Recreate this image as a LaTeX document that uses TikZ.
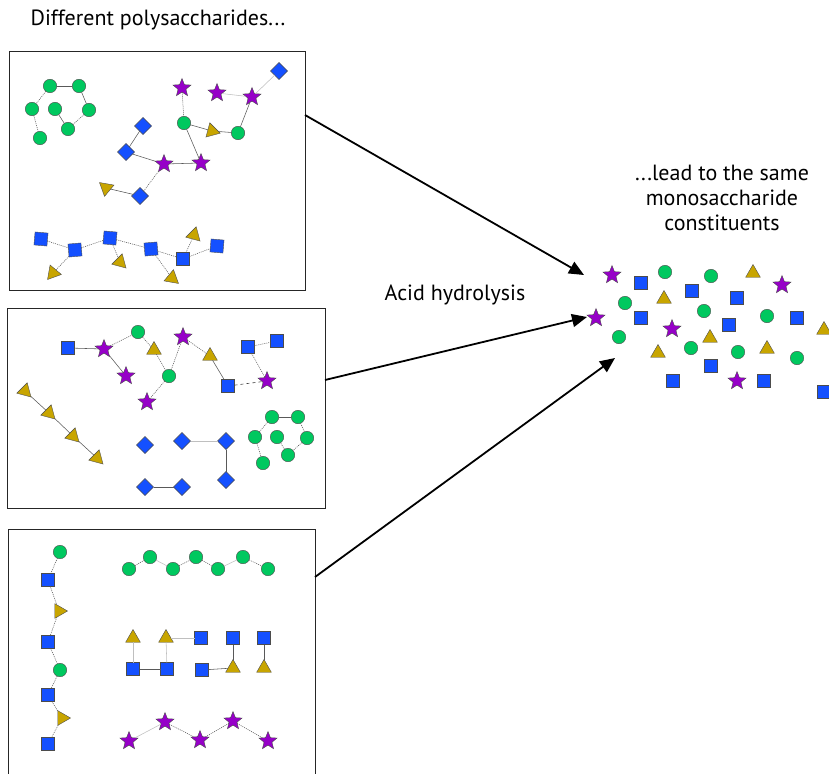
\documentclass[tikz,border=0pt]{standalone}
\usepackage{fontspec}
\setmainfont{PT Sans}
\usetikzlibrary{shapes.geometric,arrows.meta}
\definecolor{cgreen}{RGB}{0,200,95}
\definecolor{cblue}{RGB}{20,80,255}
\definecolor{cgold}{RGB}{200,165,0}
\definecolor{cpurple}{RGB}{150,0,200}
\tikzset{
 mono/.style={draw=black!70, line width=0.4pt, inner sep=0pt, outer sep=0pt},
 glc/.style={mono, circle, fill=cgreen, minimum size=13.5pt},
 sqr/.style={mono, rectangle, fill=cblue, minimum size=13pt},
 dia/.style={mono, diamond, fill=cblue, minimum size=17pt},
 str/.style={mono, star, star points=5, star point ratio=2.3, fill=cpurple, minimum size=19pt},
 tri/.style={mono, regular polygon, regular polygon sides=3, fill=cgold, minimum size=17pt},
 lk/.style={draw=black!65, line width=0.55pt},
 lkd/.style={draw=black!65, line width=0.55pt, dash pattern=on 1pt off 1pt},
 lkdash/.style={draw=black!75, line width=0.6pt, dash pattern=on 3pt off 3pt},
 lkl/.style={draw=black!25, line width=0.55pt},
 arr/.style={-{Triangle[length=15pt,width=13pt]}, line width=1.8pt},
 boxline/.style={draw=black!85, line width=0.9pt},
 lbl/.style={font=\fontsize{22}{25}\selectfont, inner sep=0pt}
}
\begin{document}
\begin{tikzpicture}[x=1pt,y=-1pt]
\useasboundingbox (0,0) rectangle (829,773);
% texts
\node[lbl] (ttl) at (158,20) {Different polysaccharides...};
\node[lbl] (acid) at (455,295) {Acid hydrolysis};
\node[lbl, align=center] (lead) at (722,198) {...lead to the same\\monosaccharide\\constituents};
% boxes
\draw[boxline] (9,51) rectangle (305,290);
\draw[boxline] (7,308) rectangle (325,508);
\draw[boxline] (8,775) -- (8,529) -- (315,529) -- (315,775);
% ---------- box 1
\node[glc] (b1c1) at (50,86) {};
\node[glc] (b1c2) at (79,86) {};
\node[glc] (b1c3) at (32,109) {};
\node[glc] (b1c4) at (55,109) {};
\node[glc] (b1c5) at (89,110) {};
\node[glc] (b1c6) at (68,129) {};
\node[glc] (b1c7) at (40,138) {};
\draw[lk] (b1c1) -- (b1c2);
\draw[lkd] (b1c1) -- (b1c3);
\draw[lkd] (b1c3) -- (b1c7);
\draw[lk] (b1c2) -- (b1c5);
\draw[lkd] (b1c5) -- (b1c6);
\draw[lk] (b1c6) -- (b1c4);
\node[str] (b1s1) at (182,88) {};
\node[str] (b1s2) at (217,93) {};
\node[str] (b1s3) at (252,97) {};
\node[str] (b1s4) at (164,164) {};
\node[str] (b1s5) at (201,163) {};
\node[dia] (b1d1) at (279,71) {};
\node[dia] (b1d2) at (143,126) {};
\node[dia] (b1d3) at (126,152) {};
\node[dia] (b1d4) at (140,196) {};
\node[glc] (b1g1) at (184,123) {};
\node[glc] (b1g2) at (238,133) {};
\node[tri, shape border rotate=15] (b1t1) at (212,131) {};
\node[tri, shape border rotate=170] (b1t2) at (106,188) {};
\draw[lkd] (b1s1) -- (b1g1);
\draw[lk] (b1g1) -- (b1t1);
\draw[lk] (b1t1) -- (b1g2);
\draw[lk] (b1g2) -- (b1s3);
\draw[lkl] (b1s3) -- (b1d1);
\draw[lkl] (b1s2) -- (b1s3);
\draw[lk] (b1g1) -- (b1s5);
\draw[lk] (b1s5) -- (b1s4);
\draw[lk] (b1s4) -- (b1d3);
\draw[lk] (b1d3) -- (b1d2);
\draw[lkd] (b1s4) -- (b1d4);
\draw[lk] (b1d4) -- (b1t2);
\node[sqr, rotate=-5] (b1q1) at (41,239) {};
\node[sqr, rotate=5] (b1q2) at (75,250) {};
\node[sqr, rotate=-5] (b1q3) at (110,238) {};
\node[sqr, rotate=5] (b1q4) at (151,249) {};
\node[sqr] (b1q5) at (183,259) {};
\node[sqr, rotate=-5] (b1q6) at (217,246) {};
\node[tri, shape border rotate=20] (b1t3) at (53,273) {};
\node[tri, shape border rotate=-15] (b1t4) at (120,262) {};
\node[tri, shape border rotate=-10] (b1t5) at (172,278) {};
\node[tri, shape border rotate=-15] (b1t6) at (194,235) {};
\draw[lkd] (b1q1) -- (b1q2);
\draw[lkd] (b1q2) -- (b1q3);
\draw[lkd] (b1q3) -- (b1q4);
\draw[lkd] (b1q4) -- (b1q5);
\draw[lkd] (b1q5) -- (b1q6);
\draw[lkd] (b1q2) -- (b1t3);
\draw[lkd] (b1q3) -- (b1t4);
\draw[lkd] (b1q4) -- (b1t5);
\draw[lkd] (b1q5) -- (b1t6);
% ---------- box 2
\node[sqr] (b2q1) at (68,348) {};
\node[str] (b2s1) at (104,349) {};
\node[glc] (b2g1) at (138,332) {};
\node[tri] (b2t1) at (154,350) {};
\node[str] (b2s2) at (126,376) {};
\node[glc] (b2g2) at (169,376) {};
\node[str] (b2s3) at (147,402) {};
\node[str] (b2s4) at (183,337) {};
\node[tri] (b2t2) at (210,356) {};
\node[sqr] (b2q2) at (228,386) {};
\node[str] (b2s5) at (267,381) {};
\node[sqr] (b2q3) at (248,347) {};
\node[sqr] (b2q4) at (277,341) {};
\draw[lk] (b2q1) -- (b2s1);
\draw[lkd] (b2s1) -- (b2g1);
\draw[lk] (b2s1) -- (b2s2);
\draw[lkd] (b2g1) -- (b2t1);
\draw[lkd] (b2t1) -- (b2g2);
\draw[lkd] (b2g2) -- (b2s3);
\draw[lkd] (b2g2) -- (b2s4);
\draw[lkd] (b2s4) -- (b2t2);
\draw[lk] (b2t2) -- (b2q2);
\draw[lkdash] (b2q2) -- (b2s5);
\draw[lkd] (b2s5) -- (b2q3);
\draw[lkd] (b2q3) -- (b2q4);
\node[tri, shape border rotate=105] (b2t3) at (25,391) {};
\node[tri, shape border rotate=105] (b2t4) at (49,413) {};
\node[tri, shape border rotate=105] (b2t5) at (73,436) {};
\node[tri, shape border rotate=105] (b2t6) at (97,458) {};
\draw[lk] (b2t3) -- (b2t4);
\draw[lk] (b2t4) -- (b2t5);
\draw[lk] (b2t5) -- (b2t6);
\node[dia] (b2d1) at (145,445) {};
\node[dia] (b2d2) at (182,441) {};
\node[dia] (b2d3) at (226,441) {};
\node[dia] (b2d4) at (226,480) {};
\node[dia] (b2d5) at (145,487) {};
\node[dia] (b2d6) at (182,487) {};
\draw[lkl] (b2d2) -- (b2d3);
\draw[lk] (b2d3) -- (b2d4);
\draw[lk] (b2d5) -- (b2d6);
\node[glc] (b2c1) at (272,417) {};
\node[glc] (b2c2) at (298,417) {};
\node[glc] (b2c3) at (255,437) {};
\node[glc] (b2c4) at (277,437) {};
\node[glc] (b2c5) at (307,438) {};
\node[glc] (b2c6) at (288,455) {};
\node[glc] (b2c7) at (263,463) {};
\draw[lk] (b2c1) -- (b2c2);
\draw[lkd] (b2c1) -- (b2c3);
\draw[lkd] (b2c3) -- (b2c7);
\draw[lkd] (b2c2) -- (b2c5);
\draw[lkd] (b2c5) -- (b2c6);
\draw[lkd] (b2c6) -- (b2c4);
% ---------- box 3
\node[glc] (b3g1) at (60,552) {};
\node[sqr] (b3q1) at (48,580) {};
\node[tri, shape border rotate=-90] (b3t1) at (59,611) {};
\node[sqr] (b3q2) at (48,642) {};
\node[glc] (b3g2) at (60,670) {};
\node[sqr] (b3q3) at (48,695) {};
\node[tri, shape border rotate=-90] (b3t2) at (62,718) {};
\node[sqr] (b3q4) at (48,744) {};
\draw[lkd] (b3g1) -- (b3q1);
\draw[lkd] (b3q1) -- (b3t1);
\draw[lkd] (b3t1) -- (b3q2);
\draw[lkd] (b3q2) -- (b3g2);
\draw[lkd] (b3g2) -- (b3q3);
\draw[lkd] (b3q3) -- (b3t2);
\draw[lkd] (b3t2) -- (b3q4);
\node[glc] (b3r1) at (129,569) {};
\node[glc] (b3r2) at (150,557) {};
\node[glc] (b3r3) at (173,569) {};
\node[glc] (b3r4) at (196,557) {};
\node[glc] (b3r5) at (218,569) {};
\node[glc] (b3r6) at (243,557) {};
\node[glc] (b3r7) at (268,569) {};
\draw[lkd] (b3r1) -- (b3r2);
\draw[lkl] (b3r2) -- (b3r3);
\draw[lkd] (b3r3) -- (b3r4);
\draw[lkd] (b3r4) -- (b3r5);
\draw[lkl] (b3r5) -- (b3r6);
\draw[lkd] (b3r6) -- (b3r7);
\node[tri] (b3ta) at (133,638) {};
\node[tri] (b3tb) at (166,638) {};
\node[sqr] (b3qa) at (201,638) {};
\node[sqr] (b3qb) at (233,638) {};
\node[sqr] (b3qc) at (264,638) {};
\node[sqr] (b3qd) at (133,669) {};
\node[sqr] (b3qe) at (167,669) {};
\node[sqr] (b3qf) at (202,670) {};
\node[tri] (b3tc) at (233,668) {};
\node[tri] (b3td) at (264,668) {};
\draw[lkl] (b3ta) -- (b3qd);
\draw[lk] (b3qd) -- (b3qe);
\draw[lkl] (b3qe) -- (b3tb);
\draw[lkl] (b3tb) -- (b3qa);
\draw[lk] (b3qf) -- (b3tc);
\draw[lk] (b3qb) -- (b3tc);
\draw[lk] (b3qc) -- (b3td);
\node[str] (b3s1) at (129,741) {};
\node[str] (b3s2) at (165,722) {};
\node[str] (b3s3) at (200,740) {};
\node[str] (b3s4) at (233,721) {};
\node[str] (b3s5) at (268,741) {};
\draw[lkl] (b3s1) -- (b3s2);
\draw[lkd] (b3s2) -- (b3s3);
\draw[lkd] (b3s3) -- (b3s4);
\draw[lkd] (b3s4) -- (b3s5);
% ---------- monosaccharide cluster
\foreach \x/\y [count=\i] in {612/275,782/285,596/318,672/329,737/381}
  \node[str] (ms\i) at (\x,\y) {};
\foreach \x/\y [count=\i] in {641/283,692/291,737/298,641/318,797/318,729/325,711/366,673/381,764/381,824/392}
  \node[sqr] (mq\i) at (\x,\y) {};
\foreach \x/\y [count=\i] in {665/272,711/276,625/303,704/311,767/316,619/337,691/348,738/352,797/358}
  \node[glc] (mg\i) at (\x,\y) {};
\foreach \x/\y [count=\i] in {753/273,664/299,824/330,710/338,658/353,767/349}
  \node[tri] (mt\i) at (\x,\y) {};
% ---------- arrows
\coordinate (a1s) at (305,115);
\coordinate (a1e) at (584,275);
\coordinate (a2s) at (325,380);
\coordinate (a2e) at (587,317);
\coordinate (a3s) at (315,577);
\coordinate (a3e) at (615,358);
\draw[arr] (a1s) -- (a1e);
\draw[arr] (a2s) -- (a2e);
\draw[arr] (a3s) -- (a3e);
\end{tikzpicture}
\end{document}
